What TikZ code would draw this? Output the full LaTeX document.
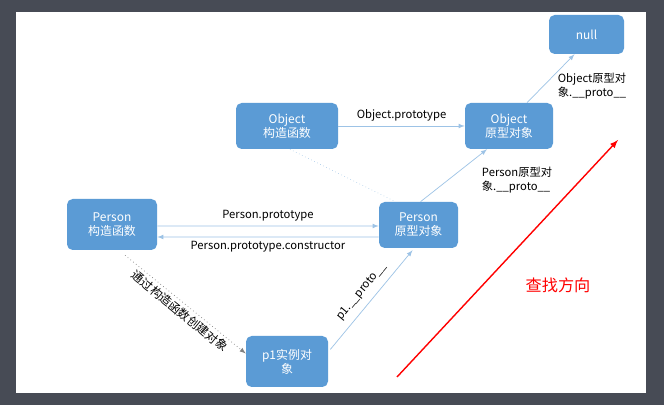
\documentclass[tikz,border=0pt]{standalone}
\usepackage{fontspec}
\setmainfont{Noto Sans CJK SC}
\usetikzlibrary{calc}
\usetikzlibrary{positioning}
\definecolor{boxblue}{HTML}{5B9BD5}
\definecolor{lineblue}{HTML}{9DC3E6}
\definecolor{frame}{HTML}{474B55}
\tikzstyle{objnode} = [fill=boxblue, rounded corners=4pt, text=white, align=center, font=\fontsize{8.5}{10}\selectfont, inner sep=1pt]
\tikzstyle{link} = [draw=lineblue, -latex, line width=0.5pt]
\tikzstyle{lbl} = [font=\fontsize{8}{10}\selectfont, align=left, inner sep=1pt]
\begin{document}
\begin{tikzpicture}[x=0.025cm, y=-0.025cm]
    \fill[frame] (0,0) rectangle (664,405);
    \fill[white] (16,12) rectangle (646,393);
    \useasboundingbox (0,0) rectangle (664,405);

    \node[objnode, minimum width=75*0.025cm, minimum height=39*0.025cm] (null) at (586.5,34.5) {null};
    \node[objnode, minimum width=102*0.025cm, minimum height=46*0.025cm] (obj_ctor) at (287,126) {Object\\构造函数};
    \node[objnode, minimum width=88*0.025cm, minimum height=46*0.025cm] (obj_proto) at (509,126) {Object\\原型对象};
    \node[objnode, minimum width=90*0.025cm, minimum height=51*0.025cm] (per_ctor) at (112,224.5) {Person\\构造函数};
    \node[objnode, minimum width=79*0.025cm, minimum height=46*0.025cm] (per_proto) at (418.5,225) {Person\\原型对象};
    \node[objnode, minimum width=82*0.025cm, minimum height=51*0.025cm] (p1) at (287,361.5) {p1实例对\\象};

    \draw[link] (obj_ctor) -- node[lbl, above=2pt] {Object.prototype} (obj_proto);
    \draw[link] ($(obj_proto.north)+(18,0)$) -- ($(null.south)+(-12,0)$);
    \node[lbl] (lbl_objproto) at (592,86) {Object原型对\\象.\_\_proto\_\_};
    \draw[link] ($(per_proto.north)+(2,0)$) -- ($(obj_proto.south)+(-22,0)$);
    \node[lbl] (lbl_perproto) at (517,180) {Person原型对\\象.\_\_proto\_\_};
    \draw[lineblue, dotted] ($(obj_ctor.south)+(3,0)$) -- ($(per_proto.north)+(-23,0)$);

    \draw[link] ($(per_ctor.east)+(0,1.5)$) -- node[lbl, above=2pt] {Person.prototype} ($(per_proto.west)+(0,1)$);
    \draw[link] ($(per_proto.west)+(0,12)$) -- node[lbl, below=2pt] {Person.prototype.constructor} ($(per_ctor.east)+(0,12.5)$);

    \draw[link, dotted, draw=gray] ($(per_ctor.south)+(13,5)$) -- node[lbl, sloped, below=1pt, font=\fontsize{8.5}{10}\selectfont] {通过构造函数创建对象} ($(p1.west)+(0,-8)$);
    \draw[link] ($(p1.east)+(2,-12)$) -- node[lbl, sloped, above=4pt] {p1.\_\_proto\_\_} ($(per_proto.south)+(-6,2)$);

    \coordinate (dir_start) at (397,377);
    \coordinate (dir_end) at (618,140);
    \draw[red, line width=1pt, -latex] (dir_start) -- (dir_end);
    \node[text=red, font=\fontsize{11.5}{13}\selectfont] (dir_lbl) at (558,285) {查找方向};
\end{tikzpicture}
\end{document}
